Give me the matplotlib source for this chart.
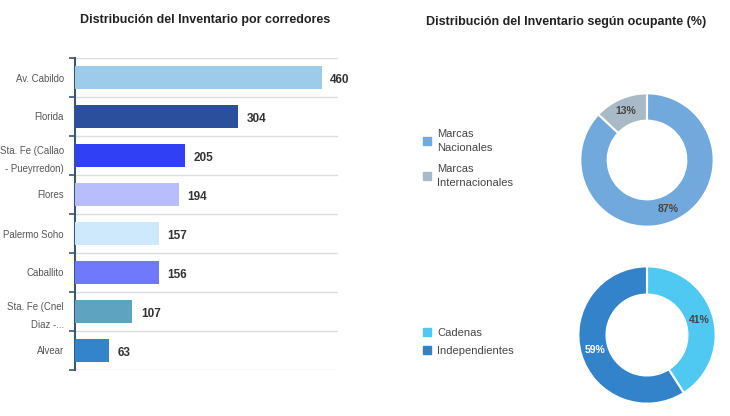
import matplotlib.pyplot as plt
from matplotlib.patches import Patch
import numpy as np

# data
corredores = ["Av. Cabildo", "Florida", "Sta. Fe (Callao\n- Pueyrredon)", "Flores",
              "Palermo Soho", "Caballito", "Sta. Fe (Cnel\nDiaz -...", "Alvear"]
inventario = [460, 304, 205, 194, 157, 156, 107, 63]
bar_colors = ["#9dcbea", "#2b4f9c", "#2f40f5", "#b8bdfb", "#cde9fb", "#7079fc", "#5ea3bf", "#3484cc"]

ocupante_labels = ["Marcas\nNacionales", "Marcas\nInternacionales"]
ocupante_pct = [87, 13]
ocupante_colors = ["#72a9dc", "#a9bac6"]

tipo_labels = ["Cadenas", "Independientes"]
tipo_pct = [41, 59]
tipo_colors = ["#4fc8f2", "#3383cb"]

plt.rcParams['font.family'] = ['Liberation Sans', 'DejaVu Sans']
fig = plt.figure(figsize=(7.3, 4.16), dpi=100)

# bar chart
ax = fig.add_axes([75 / 730, 1 - 370 / 416, 263 / 730, 312 / 416])
n = len(corredores)
pos = list(range(n))
ax.barh(pos, inventario, height=0.6, color=bar_colors, zorder=3)
for p, v in zip(pos, inventario):
    ax.annotate(str(v), (v, p), xytext=(6, -2), textcoords="offset points",
                va="center", ha="left", fontsize=8.5, fontweight="bold", color="#333333")
ax.set_ylim(n - 0.5, -0.5)
ax.set_xlim(0, 490)
ax.set_yticks(pos)
ax.set_yticklabels(corredores, fontsize=6.9, color="#555555", linespacing=1.9)
ax.tick_params(axis="y", which="major", length=0, pad=8)
ax.set_yticks([i - 0.5 for i in range(n + 1)], minor=True)
ax.tick_params(axis="y", which="minor", length=4, color="#3b5670", width=1.2)
ax.set_xticks([])
ax.grid(axis="y", which="minor", color="#dddddd", linewidth=1, zorder=0)
for s in ["top", "right", "bottom"]:
    ax.spines[s].set_visible(False)
ax.spines["left"].set_color("#3b5670")
ax.spines["left"].set_linewidth(1.5)
fig.text(205 / 730, 1 - 20 / 416, "Distribución del Inventario por corredores",
         ha="center", va="center", fontsize=9, fontweight="bold", color="#222222")
fig.text(566 / 730, 1 - 22 / 416, "Distribución del Inventario según ocupante (%)",
         ha="center", va="center", fontsize=9, fontweight="bold", color="#222222")


def donut(rect, vals, colors, txtcolors):
    a = fig.add_axes(rect)
    a.pie(vals, colors=colors, startangle=90, counterclock=False,
          wedgeprops=dict(width=0.41, edgecolor="white", linewidth=1.5))
    total = sum(vals)
    ang = 90
    for v, tc in zip(vals, txtcolors):
        mid = np.deg2rad(ang - v / total * 360 / 2)
        ang -= v / total * 360
        a.text(0.795 * np.cos(mid), 0.795 * np.sin(mid), f"{v}%", ha="center",
               va="center", fontsize=7.5, fontweight="bold", color=tc)
    a.set_xlim(-1.02, 1.02)
    a.set_ylim(-1.02, 1.02)
    a.set_aspect("equal")
    a.axis("off")
    return a


donut([579 / 730, 1 - 228 / 416, 136 / 730, 136 / 416], ocupante_pct, ocupante_colors,
      ["#444444", "#444444"])
donut([577 / 730, 1 - 405 / 416, 140 / 730, 140 / 416], tipo_pct, tipo_colors,
      ["#444444", "#ffffff"])

h1 = [Patch(color=c) for c in ocupante_colors]
leg1 = fig.legend(h1, ocupante_labels, loc="upper left", bbox_to_anchor=(413 / 730, 1 - 119 / 416),
                  frameon=False, fontsize=8, handlelength=0.7, handleheight=0.7,
                  handletextpad=0.6, labelspacing=1.0, labelcolor="#444444")
for t in leg1.get_texts():
    t.set_linespacing(1.5)
h2 = [Patch(color=c) for c in tipo_colors]
fig.legend(h2, tipo_labels, loc="upper left", bbox_to_anchor=(413 / 730, 1 - 318 / 416),
           frameon=False, fontsize=8, handlelength=0.7, handleheight=0.7,
           handletextpad=0.6, labelspacing=0.7, labelcolor="#444444")

fig.savefig("out.png", dpi=100)
